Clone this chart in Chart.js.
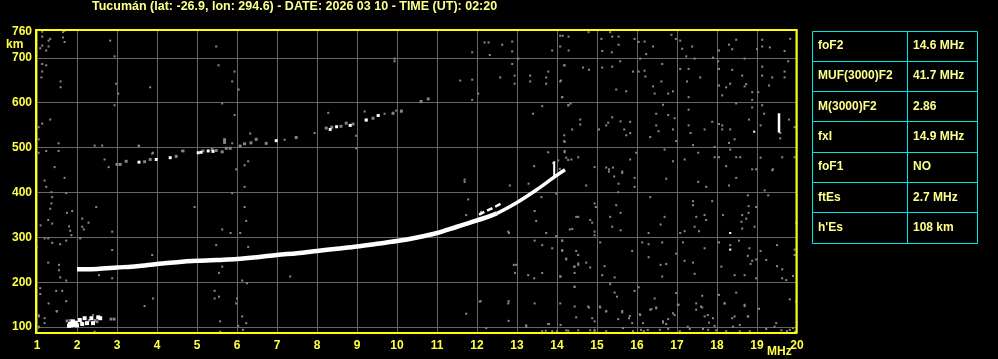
<!DOCTYPE html>
<html>
<head>
<meta charset="utf-8">
<script src="https://cdn.jsdelivr.net/npm/chart.js@4"></script>
<style>
  body { margin: 0; background: #000; }
</style>
</head>
<body>
<canvas id="iono" width="998" height="359"></canvas>
<script>
// header + parameter table
const titleText = 'Tucumán (lat: -26.9, lon: 294.6) - DATE: 2026 03 10 - TIME (UT): 02:20';
const paramNames = ['foF2', 'MUF(3000)F2', 'M(3000)F2', 'fxI', 'foF1', 'ftEs', "h'Es"];
const paramValues = ['14.6 MHz', '41.7 MHz', '2.86', '14.9 MHz', 'NO', '2.7 MHz', '108 km'];

// axes
const freqTicks = [1, 2, 3, 4, 5, 6, 7, 8, 9, 10, 11, 12, 13, 14, 15, 16, 17, 18, 19, 20];
const heightTicks = [100, 200, 300, 400, 500, 600, 700, 760];

// F2 trace (ordinary), MHz / km
const traceFreq = [2.0, 2.5, 3.0, 3.5, 4.0, 4.5, 5.0, 5.5, 6.0, 6.5, 7.0, 7.5, 8.0, 8.5, 9.0, 9.5, 10.0, 10.5, 11.0, 11.5, 12.0, 12.5, 13.0, 13.5, 14.0, 14.2];
const traceHeight = [229, 230, 233, 236, 241, 245, 248, 250, 252, 256, 261, 265, 270, 275, 280, 286, 292, 300, 310, 324, 338, 354, 378, 407, 439, 451];

// short branch near 12-13 MHz
const branchFreq = [12.05, 12.2, 12.4, 12.65];
const branchHeight = [351, 358, 366, 378];

// second hop echoes
const hopGray = [[3.0,463],[3.08,463],[3.23,470],[3.69,469],[3.83,474],[4.48,481],[4.65,493],[5.15,493],[5.38,496],[5.48,494],[5.63,491],[5.73,499],[5.83,499],[6.08,504],[6.19,509],[6.35,511],[6.48,519],[6.73,510],[7.48,523],[8.23,544],[8.37,546],[8.6,548],[8.73,555],[8.9,553],[9.23,562],[9.4,566],[9.53,572],[9.9,577],[10.11,582],[10.6,603],[10.78,609],[5.69,518],[5.69,512]];
const hopWhite = [[3.55,468],[3.98,474],[4.33,478],[5.03,489],[5.1,490],[5.28,493],[5.4,492],[6.98,516],[8.33,541],[8.49,547],[8.83,550],[9.23,562],[9.53,572]];

// sporadic E near 2 MHz
const esWhite = [[1.82,107],[1.85,104],[1.88,109],[1.9,113],[1.94,105],[1.97,110],[2.0,104],[1.8,103],[2.07,116],[2.13,107],[2.19,120],[2.25,109],[2.36,120],[2.4,109],[2.53,122],[2.58,120]];
const esGray = [[1.75,114],[2.3,115],[2.45,115],[2.85,118],[2.93,118],[1.83,115],[2.1,111],[2.5,112]];

// vertical spikes
const spikeFreqA = [13.93, 13.93];
const spikeHeightA = [433, 470];
const spikeFreqB = [19.55, 19.55];
const spikeHeightB = [534, 577];

// isolated white echoes
const whiteDots = [[18.93,536],[18.33,310],[18.33,273],[14.13,447]];

// background noise dots
const noiseDots = [
  [1.13,759],[1.13,748],[1.13,728],[1.08,722],[1.23,717],[1.29,739],[1.33,743],[1.29,726],[1.65,758],[1.69,761],[1.65,746],[1.69,736],
  [2.83,739],[2.94,704],[1.13,687],[1.23,684],[1.13,670],[1.11,657],[1.59,648],[1.59,635],[2.98,643],[3.03,621],[3.83,635],[2.94,595],
  [1.13,554],[1.33,563],[1.04,546],[1.04,519],[1.54,510],[1.04,489],[1.23,493],[1.54,493],[1.44,457],[2.44,505],[2.63,505],[2.69,474],
  [2.79,457],[3.54,505],[5.48,726],[5.54,684],[5.94,670],[5.88,648],[6.04,630],[5.63,599],[5.94,573],[6.33,532],[5.88,510],[5.98,452],
  [6.19,461],[6.28,470],[3.9,489],[4.63,493],[3.55,504],[3.88,487],[7.19,518],[7.94,533],[8.98,527],[8.98,499],
  [1.19,427],[1.23,413],[1.36,401],[1.38,390],[1.36,376],[1.33,364],[1.69,433],[1.73,399],[1.88,359],[1.75,355],[2.13,342],[2.13,324],
  [2.17,318],[2.29,333],[1.8,325],[1.83,315],[1.86,305],[2.48,368],[2.88,313],[1.28,339],[1.38,331],[1.09,327],[1.19,298],[1.28,298],
  [1.38,288],[1.58,285],[1.73,293],[2.08,298],[2.88,272],[1.0,279],[1.28,244],[1.55,239],[1.55,227],[1.58,211],[1.73,204],[2.55,216],
  [2.88,209],[1.08,187],[1.08,174],[1.48,181],[1.63,181],[1.29,153],[1.5,135],[1.05,124],[1.19,120],[1.19,109],[1.05,101],[2.4,127],
  [3.69,147],[3.9,164],[3.88,261],[4.94,368],[5.63,318],[5.84,310],[6.08,310],[6.19,413],[6.19,368],[6.23,337],[5.88,399],[5.48,283],
  [5.63,235],[5.55,221],[5.44,181],[5.44,164],[5.55,168],[5.98,153],[6.13,204],[6.25,198],[6.13,124],[6.23,109],[6.15,94],[5.58,113],
  [6.0,164],[6.03,103],[6.28,279],[7.33,213],[1.73,158],[1.49,136],[5.58,90],[2.44,90],[1.04,127],[1.03,99],
  [9.94,699],[9.94,693],[11.88,713],[12.19,735],[12.29,735],[12.32,707],[12.63,730],[12.88,737],[12.88,715],[13.03,699],[12.88,687],
  [12.94,661],[12.94,643],[12.58,657],[13.33,661],[13.33,648],[13.73,657],[13.73,643],[13.78,670],[13.88,717],[14.08,750],[14.08,726],
  [14.18,684],[14.08,648],[14.13,613],[11.88,652],[11.58,650],[12.03,621],[11.88,607],[10.61,604],[8.28,578],[9.19,581],[9.69,576],
  [9.9,578],[9.98,583],[10.1,581],[13.63,593],[13.4,576],[14.28,595],
  [11.69,429],[11.69,424],[11.78,385],[12.82,416],[13.29,420],[13.43,459],[13.78,490],[14.19,513],[14.19,490],[14.28,473],[14.03,472],
  [14.07,453],[13.98,398],[13.61,390],[13.44,359],[13.48,337],[13.73,310],[13.98,303],[14.38,319],[14.53,346],[12.8,310],[12.98,239],
  [12.95,221],[13.28,216],[13.44,293],[13.63,283],[13.88,276],[14.13,293],[14.13,272],[14.23,253],[14.43,235],[14.53,239],[13.63,221],
  [13.43,209],[14.09,213],[14.44,190],[11.73,350],[12.1,357],[12.78,313],[12.92,239],[12.07,157],[12.78,153],[13.44,153],[11.73,130],
  [13.78,107],[13.23,101],[12.23,98],[12.09,158],[12.79,158],[12.79,114],[13.23,104],[13.8,107],[14.09,105],[13.9,466],
  [14.14,750],[14.29,748],[14.29,717],[14.79,758],[15.11,743],[15.13,716],[15.33,758],[15.38,748],[15.37,713],[15.54,748],[15.54,730],
  [15.94,743],[16.04,736],[16.19,737],[16.23,709],[16.4,726],[16.08,699],[16.86,752],[16.97,743],[17.08,739],[17.13,721],[17.23,704],
  [17.38,726],[17.44,699],[17.9,701],[18.05,717],[18.3,730],[18.38,720],[18.48,741],[18.69,699],[19.0,720],[19.13,741],[19.13,726],
  [19.32,724],[19.69,716],[19.83,743],
  [14.19,684],[14.65,679],[14.8,674],[15.13,679],[15.38,681],[15.58,693],[15.9,670],[16.04,670],[16.19,672],[16.21,659],[16.4,637],
  [16.44,621],[16.61,648],[16.63,687],[16.78,621],[16.9,626],[17.08,676],[17.29,676],[17.25,648],[17.58,657],[17.29,613],[14.1,650],
  [14.13,613],[15.48,630],[15.73,626],[18.03,693],[18.05,676],[18.05,639],[18.23,635],[18.33,643],[18.38,674],[18.63,661],[18.69,637],
  [18.73,642],[18.13,617],[18.88,624],[18.88,607],[19.03,624],[19.13,681],[19.13,661],[19.3,639],[19.38,657],[19.69,670],[19.69,657],
  [19.78,693],
  [14.29,595],[14.34,599],[14.58,563],[14.58,552],[14.38,541],[14.18,528],[14.18,515],[15.05,541],[15.28,556],[15.38,568],[15.23,550],
  [15.59,559],[15.68,541],[15.83,558],[15.83,533],[15.73,528],[16.33,524],[16.48,576],[16.48,550],[16.54,537],[16.65,596],[16.78,573],
  [16.94,566],[16.9,541],[16.98,515],[17.29,585],[17.29,550],[17.34,533],[17.4,506],[17.69,541],[17.88,558],[18.05,553],[18.13,550],
  [18.13,541],[18.33,541],[18.44,519],[18.3,511],[18.48,599],[18.88,590],[18.8,563],[19.09,550],[19.18,576],[19.13,595],[19.58,521],
  [19.58,533],[19.8,563],[19.94,546],
  [14.19,493],[14.23,478],[14.36,474],[14.53,479],[14.94,457],[15.23,456],[15.3,452],[15.4,456],[15.63,447],[15.83,474],[15.98,489],
  [16.69,496],[16.9,470],[17.19,474],[17.53,489],[17.94,502],[17.94,479],[18.05,479],[18.23,459],[18.33,496],[18.48,479],[18.58,479],
  [18.88,452],[18.98,452],[19.09,478],[19.4,452],[19.63,479],[19.94,479],
  [14.73,416],[15.3,447],[15.43,436],[15.63,444],[15.54,420],[15.94,433],[15.94,413],[15.53,401],[16.73,431],[17.53,424],[17.73,413],
  [18.3,416],[18.48,433],[19.19,405],[19.38,450],
  [14.94,376],[14.97,368],[15.48,372],[15.59,355],[15.33,346],[14.83,339],[14.88,333],[14.48,346],[14.32,318],[14.94,313],[14.94,305],
  [15.38,324],[15.59,316],[16.29,310],[16.33,390],[16.59,329],[16.69,346],[17.08,310],[17.19,314],[17.4,381],[17.4,372],[17.48,346],
  [17.69,350],[17.73,339],[17.44,324],[17.55,314],[17.88,381],[18.15,350],[18.63,350],[18.61,335],[18.73,342],[18.63,320],[18.79,370],
  [18.79,355],[18.94,324],[18.98,368],[18.77,394],[19.28,394],[19.98,333],
  [14.13,293],[14.13,270],[14.48,270],[14.53,261],[14.23,251],[14.44,235],[14.53,242],[14.73,244],[14.83,233],[14.44,221],[14.08,213],
  [15.08,289],[15.19,236],[15.13,216],[15.44,211],[15.88,270],[16.13,289],[16.29,285],[16.29,256],[16.59,239],[16.63,289],[16.73,241],
  [16.63,213],[16.98,264],[17.15,289],[17.19,248],[17.4,244],[17.44,219],[17.69,276],[18.05,289],[18.11,235],[18.33,283],[18.44,216],
  [18.55,293],[18.69,216],[18.77,259],[18.81,276],[18.88,248],[18.84,241],[18.98,251],[18.98,209],[19.09,270],[19.23,250],[19.5,283],
  [19.5,236],[19.63,229],[19.63,209],[19.73,205],[19.94,273],[19.94,261],[19.9,214],
  [14.44,190],[14.44,146],[14.08,153],[14.8,144],[14.48,122],[14.88,120],[14.94,113],[14.94,94],[15.08,144],[15.23,135],[15.33,196],
  [15.44,177],[15.5,168],[15.63,133],[15.8,120],[15.88,109],[15.94,181],[16.04,189],[16.08,127],[16.15,109],[16.33,139],[16.44,164],
  [16.48,142],[16.65,113],[16.73,107],[16.78,118],[16.94,127],[16.98,176],[17.04,150],[17.27,101],[17.48,153],[17.48,139],[17.63,170],
  [17.63,144],[17.69,124],[17.8,110],[17.9,120],[17.94,103],[18.05,172],[18.19,153],[18.38,120],[18.48,177],[18.57,105],[18.69,147],
  [18.77,124],[19.05,141],[19.82,162],[19.98,157],[19.48,109],
  [14.78,146],[15.07,146],[15.23,136],[15.63,136],[15.82,125],[15.53,118],[16.07,129],[16.36,140],[16.48,144],[16.65,110],[16.9,131],
  [17.02,150],[17.6,146],[17.77,127],[18.19,153],[18.44,124],[18.69,150],[18.78,124],
  [13.63,91],[13.72,92],[13.88,91],[14.0,91],[14.23,93],[14.28,92],[14.53,93],[14.83,93],[14.94,91],[15.23,91],[15.65,98],[15.9,91],
  [16.1,94],[16.17,91],[16.27,94],[16.57,94],[16.78,96],[17.07,91],[17.32,96],[17.65,96],[17.78,94],[17.98,93],[18.23,91],[18.4,101],
  [18.57,91],[18.82,91],[19.23,96],[19.44,101],[19.61,93],[19.82,94],[19.9,98],[19.75,91],[19.95,90]
];

const toXY = (fs, hs) => fs.map((f, i) => ({ x: f, y: hs[i] }));
const pairsXY = list => list.map(p => ({ x: p[0], y: p[1] }));

const GRID = '#666666';
const NOISE = '#858585';
const TICK_YELLOW = '#ffff48';
const TEXT_YELLOW = '#ffff8c';
const CYAN = '#00e6e6';
const FONT = '"Liberation Sans", Arial, sans-serif';

const framePlugin = {
    id: 'frame',
    beforeDraw(chart) {
        const ctx = chart.ctx;
        ctx.save();
        ctx.fillStyle = '#000';
        ctx.fillRect(0, 0, chart.width, chart.height);
        ctx.restore();
    },
    afterDraw(chart) {
        const { ctx, chartArea: a } = chart;
        ctx.save();
        // yellow plot frame
        ctx.strokeStyle = '#ffff00';
        ctx.lineWidth = 2;
        ctx.strokeRect(a.left - 1, a.top + 1, a.right - a.left + 0.5, a.bottom - a.top - 1);

        // title
        ctx.fillStyle = TEXT_YELLOW;
        ctx.font = 'bold 12.5px ' + FONT;
        ctx.textAlign = 'left';
        ctx.textBaseline = 'middle';
        ctx.fillText(titleText, 92, 7);

        // axis units
        ctx.font = 'bold 12px ' + FONT;
        ctx.fillStyle = TICK_YELLOW;
        ctx.fillText('km', 6, 45);
        ctx.fillText('MHz', 767, 352);

        // parameter table
        const tx0 = 812.5, tx1 = 907.5, tx2 = 977.5, ty0 = 30.5, rowH = 30.33;
        ctx.strokeStyle = CYAN;
        ctx.lineWidth = 1;
        ctx.beginPath();
        for (let i = 0; i <= paramNames.length; i++) {
            const y = Math.round(ty0 + i * rowH) + 0.5;
            ctx.moveTo(tx0, y);
            ctx.lineTo(tx2, y);
        }
        const yEnd = Math.round(ty0 + paramNames.length * rowH) + 0.5;
        [tx0, tx1, tx2].forEach(x => { ctx.moveTo(x, Math.round(ty0) + 0.5); ctx.lineTo(x, yEnd); });
        ctx.stroke();

        ctx.fillStyle = TEXT_YELLOW;
        paramNames.forEach((name, i) => {
            const cy = ty0 + i * rowH + rowH / 2;
            ctx.fillText(name, 818, cy);
            ctx.fillText(paramValues[i], 913, cy);
        });
        ctx.restore();
    }
};

const ctx = document.getElementById('iono').getContext('2d');
new Chart(ctx, {
    type: 'scatter',
    data: {
        datasets: [
            { label: 'noise', data: pairsXY(noiseDots), backgroundColor: NOISE, borderWidth: 0, pointStyle: 'rect', pointRadius: 1.45, order: 9 },
            { label: 'hop2', data: pairsXY(hopGray), backgroundColor: NOISE, borderWidth: 0, pointStyle: 'rect', pointRadius: 2.1, order: 8 },
            { label: 'hop2w', data: pairsXY(hopWhite), backgroundColor: '#fff', borderWidth: 0, pointStyle: 'rect', pointRadius: 2.1, order: 7 },
            { label: 'esg', data: pairsXY(esGray), backgroundColor: NOISE, borderWidth: 0, pointStyle: 'rect', pointRadius: 2, order: 6 },
            { label: 'es', data: pairsXY(esWhite), backgroundColor: '#fff', borderWidth: 0, pointStyle: 'rect', pointRadius: 2.8, order: 5 },
            { label: 'dots', data: pairsXY(whiteDots), backgroundColor: '#fff', borderWidth: 0, pointStyle: 'rect', pointRadius: 1.45, order: 5 },
            { label: 'branch', data: toXY(branchFreq, branchHeight), showLine: true, borderColor: '#fff', borderWidth: 2.5, borderDash: [6, 3], pointRadius: 0, order: 2 },
            {
                label: 'F2', data: toXY(traceFreq, traceHeight), showLine: true, borderColor: '#fff', borderWidth: 4.5,
                pointRadius: 0, tension: 0.4, cubicInterpolationMode: 'monotone', order: 1,
                segment: { borderWidth: c => (c.p0.parsed.x >= 12.5 ? 3.5 : 4.5) }
            },
            { label: 'spikeA', data: toXY(spikeFreqA, spikeHeightA), showLine: true, borderColor: '#fff', borderWidth: 2, pointRadius: 0, order: 1 },
            { label: 'spikeB', data: toXY(spikeFreqB, spikeHeightB), showLine: true, borderColor: '#fff', borderWidth: 2.5, pointRadius: 0, order: 1 }
        ]
    },
    options: {
        responsive: false,
        devicePixelRatio: 1,
        animation: false,
        events: [],
        layout: { padding: { top: 29, right: 201, left: 0, bottom: 0 } },
        plugins: { legend: { display: false }, tooltip: { enabled: false }, title: { display: false } },
        scales: {
            x: {
                type: 'linear', min: 1, max: 20,
                afterBuildTicks: s => { s.ticks = freqTicks.map(v => ({ value: v })); },
                afterFit: s => { s.height = 26; s.paddingLeft = 0; s.paddingRight = 0; },
                ticks: { color: TICK_YELLOW, font: { family: FONT, weight: 'bold', size: 12 }, padding: 5, maxRotation: 0, autoSkip: false },
                grid: { color: GRID, lineWidth: 1, drawTicks: false },
                border: { display: false }
            },
            y: {
                type: 'linear', min: 87, max: 765,
                afterBuildTicks: s => { s.ticks = heightTicks.map(v => ({ value: v })); },
                afterFit: s => { s.width = 37; s.paddingTop = 0; s.paddingBottom = 0; },
                ticks: { color: TICK_YELLOW, font: { family: FONT, weight: 'bold', size: 12 }, padding: 5, autoSkip: false },
                grid: { color: c => (c.tick && c.tick.value === 760) ? 'rgba(0,0,0,0)' : GRID, lineWidth: 1, drawTicks: false },
                border: { display: false }
            }
        }
    },
    plugins: [framePlugin]
});
</script>
</body>
</html>
